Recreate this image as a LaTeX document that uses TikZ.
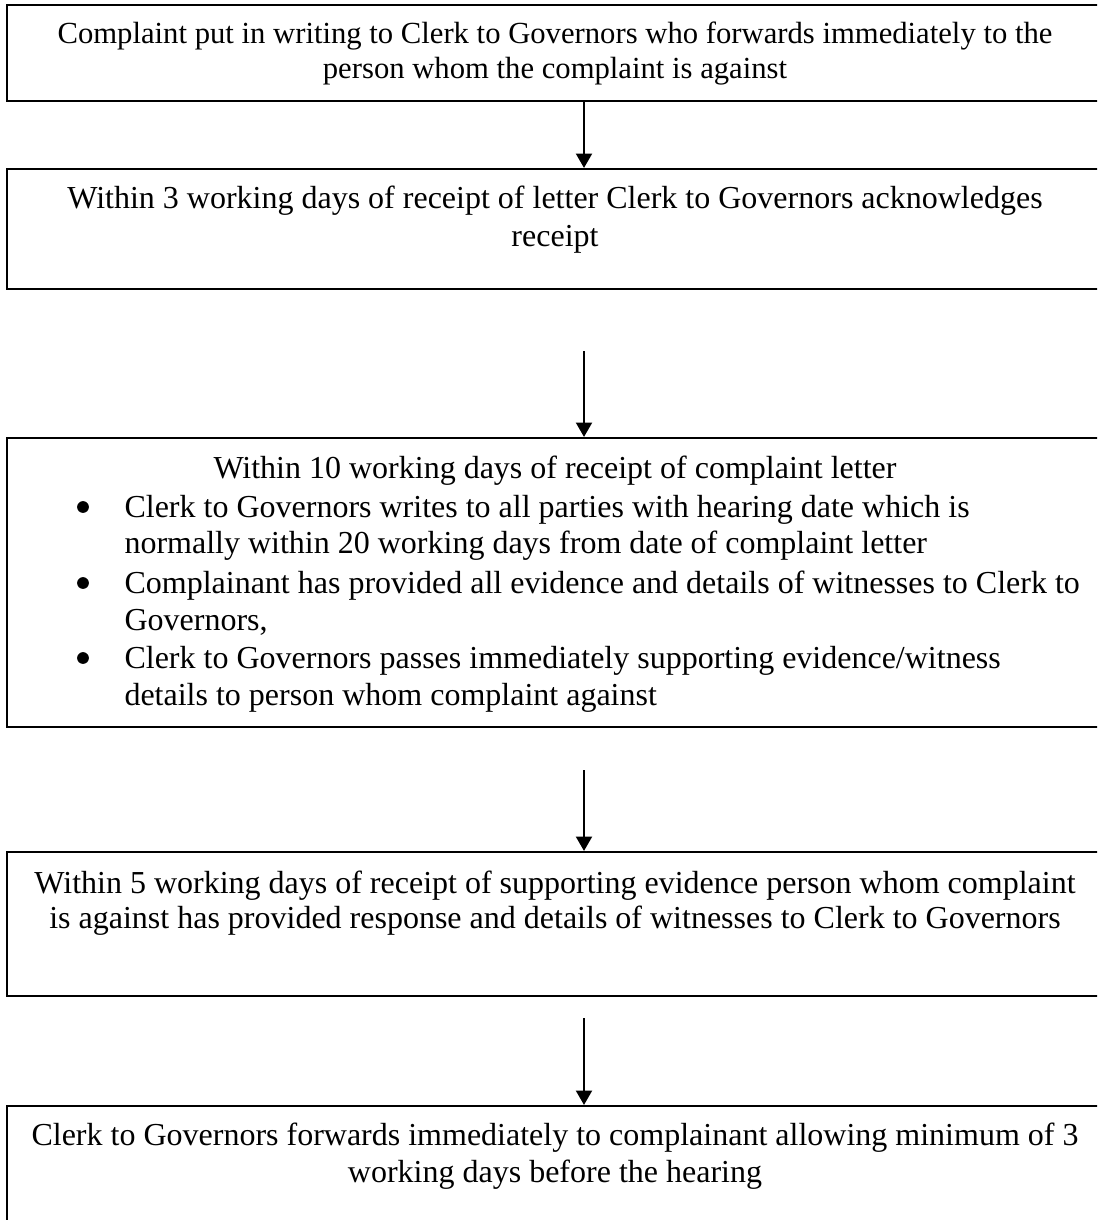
\documentclass[tikz,border=0pt]{standalone}
\usepackage{fontspec}
\setmainfont{Liberation Serif}
\usetikzlibrary{arrows.meta,fit}
\begin{document}
\begin{tikzpicture}[x=0.375pt,y=-0.375pt,
  box/.style={draw=black,line width=0.8pt,inner sep=0pt,rectangle},
  txt/.style={inner sep=0pt,anchor=base,font=\fontsize{12}{14}\selectfont},
  stxt/.style={txt,font=\fontsize{11.5}{14}\selectfont},
  ltxt/.style={txt,anchor=base west},
  dot/.style={circle,fill=black,inner sep=0pt,minimum size=4.4pt},
  arr/.style={line width=0.8pt,-{Triangle[length=5.4pt,width=6pt]}}]
\useasboundingbox (0,0) rectangle (1097,1220);
\clip (0,0) rectangle (1097,1220);
% boxes
\node[box,fit={(7,5)(1103,101)}] (b1) {};
\node[box,fit={(7,169)(1103,289)}] (b2) {};
\node[box,fit={(7,438)(1103,727)}] (b3) {};
\node[box,fit={(7,852)(1103,996)}] (b4) {};
\node[box,fit={(7,1106)(1103,1240)}] (b5) {};
% texts
\node[stxt] (t11) at (555,44) {Complaint put in writing to Clerk to Governors who forwards immediately to the};
\node[stxt] (t12) at (555,79) {person whom the complaint is against};
\node[txt] (t21) at (555,208) {Within 3 working days of receipt of letter Clerk to Governors acknowledges};
\node[txt] (t22) at (555,246) {receipt};
\node[txt] (t31) at (555,478) {Within 10 working days of receipt of complaint letter};
\node[dot] (u1) at (83,507) {};
\node[ltxt] (t32) at (124,517) {Clerk to Governors writes to all parties with hearing date which is};
\node[ltxt] (t33) at (124,553) {normally within 20 working days from date of complaint letter};
\node[dot] (u2) at (83,583) {};
\node[ltxt] (t34) at (124,593) {Complainant has provided all evidence and details of witnesses to Clerk to};
\node[ltxt] (t35) at (124,630) {Governors,};
\node[dot] (u3) at (83,658) {};
\node[ltxt] (t36) at (124,668) {Clerk to Governors passes immediately supporting evidence/witness};
\node[ltxt] (t37) at (124,705) {details to person whom complaint against};
\node[txt] (t41) at (555,893) {Within 5 working days of receipt of supporting evidence person whom complaint};
\node[txt] (t42) at (555,928) {is against has provided response and details of witnesses to Clerk to Governors};
\node[txt] (t51) at (555,1145) {Clerk to Governors forwards immediately to complainant allowing minimum of 3};
\node[txt] (t52) at (555,1182) {working days before the hearing};
% arrows
\coordinate (ax) at (584,0);
\coordinate (s2) at (584,351);
\coordinate (s3) at (584,770);
\coordinate (s4) at (584,1018);
\draw[arr] (b1.south -| ax) -- (b2.north -| ax);
\draw[arr] (s2) -- (b3.north -| s2);
\draw[arr] (s3) -- (b4.north -| s3);
\draw[arr] (s4) -- (b5.north -| s4);
\end{tikzpicture}
\end{document}
